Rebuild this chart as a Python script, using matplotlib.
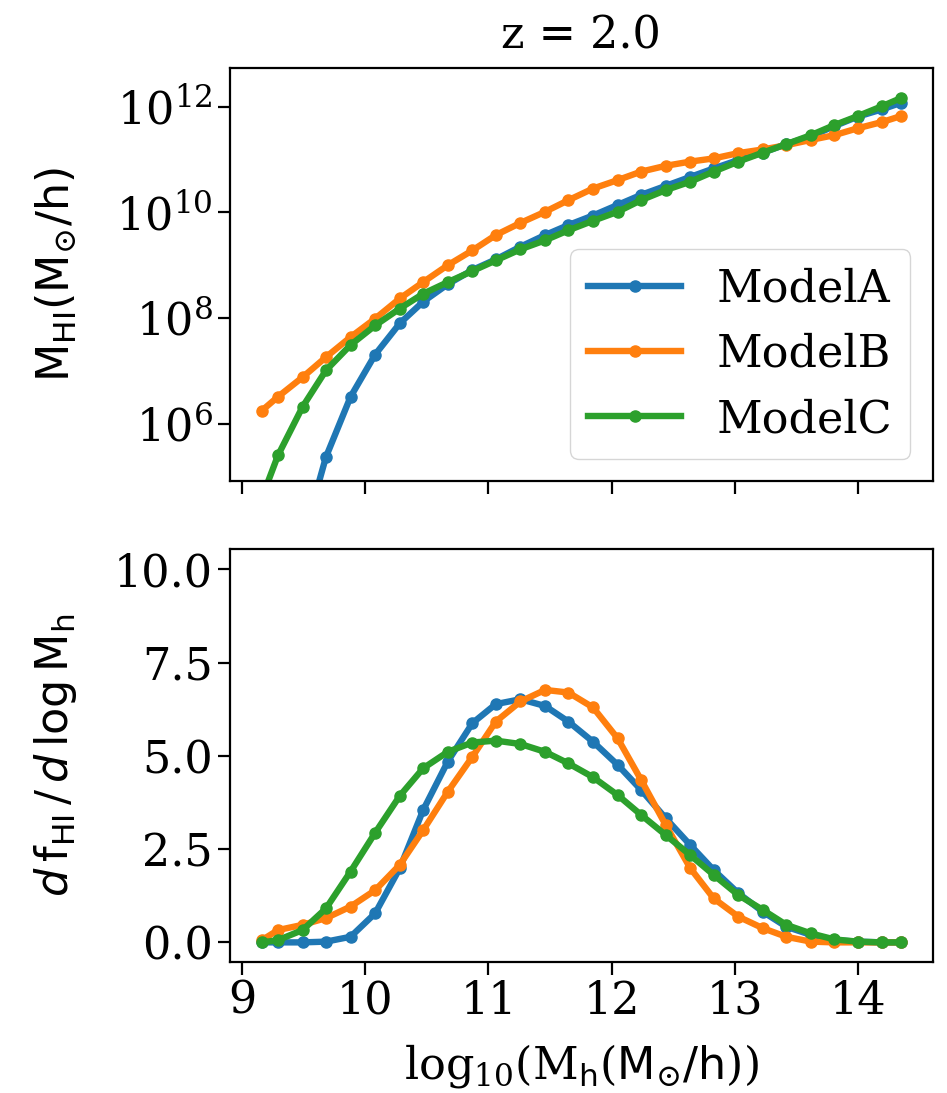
import numpy as np
import matplotlib
matplotlib.use("Agg")
import matplotlib.pyplot as plt

plt.rcParams['font.family'] = ['DejaVu Serif']
plt.rcParams['mathtext.fontset'] = 'custom'
plt.rcParams['mathtext.rm'] = 'DejaVu Serif'
plt.rcParams['mathtext.it'] = 'DejaVu Sans:italic'
plt.rcParams['mathtext.sf'] = 'DejaVu Sans'
plt.rcParams['font.size'] = 32

# ---- data ----
log_mh = [9.16, 9.29, 9.49, 9.68, 9.88, 10.08, 10.28, 10.47, 10.67, 10.87,
          11.06, 11.26, 11.46, 11.65, 11.85, 12.05, 12.24, 12.44, 12.64, 12.83,
          13.03, 13.23, 13.42, 13.62, 13.81, 14.00, 14.20, 14.35]

# log10 of M_HI
logmhi_A = [1.5, 2.5, 3.79, 5.37, 6.51, 7.31, 7.90, 8.31, 8.64, 8.91,
            9.11, 9.35, 9.57, 9.76, 9.94, 10.14, 10.33, 10.50, 10.67, 10.83,
            10.99, 11.13, 11.29, 11.44, 11.63, 11.81, 11.95, 12.07]
logmhi_B = [6.25, 6.51, 6.88, 7.26, 7.64, 7.99, 8.37, 8.68, 9.00, 9.28,
            9.57, 9.80, 10.01, 10.23, 10.45, 10.61, 10.77, 10.88, 10.96, 11.02,
            11.12, 11.19, 11.27, 11.37, 11.46, 11.59, 11.71, 11.82]
logmhi_C = [4.60, 5.40, 6.32, 7.01, 7.49, 7.86, 8.18, 8.46, 8.68, 8.89,
            9.09, 9.30, 9.47, 9.66, 9.84, 10.01, 10.23, 10.42, 10.58, 10.77,
            10.96, 11.13, 11.29, 11.46, 11.65, 11.82, 12.01, 12.16]

# dfHI / dlogMh
dfhi_A = [0.0, 0.0, 0.0, 0.02, 0.15, 0.78, 1.99, 3.55, 4.85, 5.88,
          6.39, 6.52, 6.34, 5.92, 5.38, 4.76, 4.09, 3.33, 2.61, 1.94,
          1.32, 0.82, 0.42, 0.20, 0.06, 0.02, 0.0, 0.0]
dfhi_B = [0.06, 0.33, 0.47, 0.65, 0.96, 1.40, 2.08, 3.01, 4.04, 4.98,
          5.92, 6.46, 6.77, 6.70, 6.30, 5.47, 4.36, 3.15, 1.99, 1.18,
          0.69, 0.38, 0.15, 0.02, 0.0, 0.0, 0.0, 0.0]
dfhi_C = [0.0, 0.06, 0.33, 0.91, 1.90, 2.94, 3.93, 4.67, 5.11, 5.36,
          5.41, 5.32, 5.11, 4.80, 4.43, 3.95, 3.42, 2.88, 2.34, 1.81,
          1.27, 0.87, 0.47, 0.24, 0.08, 0.02, 0.0, 0.0]

labels = ['ModelA', 'ModelB', 'ModelC']
colors = ['#1f77b4', '#ff7f0e', '#2ca02c']
title = 'z = 2.0'

W, H = 947, 1093
fig = plt.figure(figsize=(W / 100, H / 100), dpi=100)
L, R = 230 / W, 932.7 / W
ax1 = fig.add_axes([L, 1 - 481 / H, R - L, (481 - 68.3) / H])
ax2 = fig.add_axes([L, 1 - 962 / H, R - L, (962 - 548.6) / H], sharex=ax1)

x = np.array(log_mh)
for ylog, lab, c in zip([logmhi_A, logmhi_B, logmhi_C], labels, colors):
    ax1.plot(x, 10 ** np.array(ylog), '-o', color=c, lw=4.6, ms=8, label=lab)
for yv, lab, c in zip([dfhi_A, dfhi_B, dfhi_C], labels, colors):
    ax2.plot(x, yv, '-o', color=c, lw=4.6, ms=8, label=lab)

ax1.set_yscale('log')
ax1.set_ylim(10 ** 4.917, 10 ** 12.725)
ax1.set_yticks([1e6, 1e8, 1e10, 1e12])
ax1.yaxis.set_minor_locator(matplotlib.ticker.NullLocator())
ax2.set_ylim(-0.526, 10.56)
ax2.set_yticks([0, 2.5, 5.0, 7.5, 10.0])
ax2.set_xticks([9, 10, 11, 12, 13, 14])
plt.setp(ax1.get_xticklabels(), visible=False)

for ax in (ax1, ax2):
    ax.tick_params(which='major', length=9, width=1.6, labelsize=32)
    for s in ax.spines.values():
        s.set_linewidth(1.6)

ax1.set_title(title, pad=14, fontsize=32)
ax1.set_ylabel(r'$\mathsf{M_{HI}(M}_{\odot}\mathsf{/h)}$', fontsize=32)
ax2.set_ylabel(r'$d\,\mathsf{f_{HI}}\,/\,d\,\mathsf{log\,M_h}$', fontsize=32)
ax2.set_xlabel(r'log$_{10}$(M$_\mathsf{h}$($\mathsf{M}_{\odot}\mathsf{/h}$))',
               fontsize=32, labelpad=14)
ax1.yaxis.set_label_coords(-0.215, 0.5)
ax2.yaxis.set_label_coords(-0.215, 0.5)

ax1.legend(loc='lower right', fontsize=32, handlelength=2.1)

fig.savefig('out.png', dpi=100)
